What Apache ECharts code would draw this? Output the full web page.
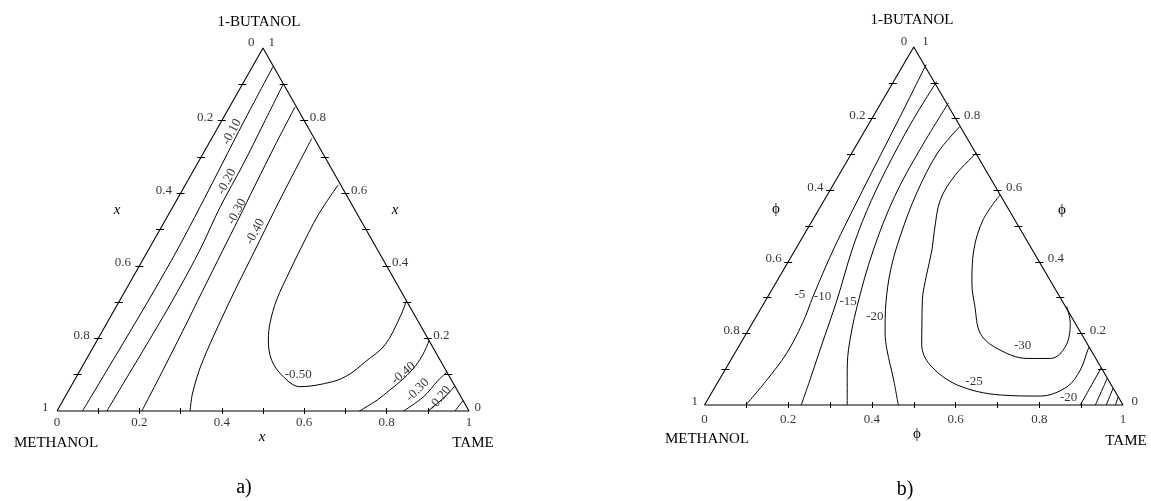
<!DOCTYPE html>
<html>
<head>
<meta charset="utf-8">
<script src="https://cdn.jsdelivr.net/npm/echarts@6/dist/echarts.min.js"></script>
<style>
  html, body { margin: 0; padding: 0; background: #fff; }
  #main { width: 1151px; height: 501px; }
</style>
</head>
<body>
<div id="main"></div>
<script>
// every contour point is [x TAME, x 1-BUTANOL]; methanol is the rest
const edgeValues = [0, 0.2, 0.4, 0.6, 0.8, 1];
const edgeText = ['0', '0.2', '0.4', '0.6', '0.8', '1'];
const minorTicks = [0.1, 0.2, 0.3, 0.4, 0.5, 0.6, 0.7, 0.8, 0.9];

// a) mole fraction contours
const levelsA = ['-0.10', '-0.20', '-0.30', '-0.40', '-0.50', '-0.40', '-0.30', '-0.20'];
const pathA10 = [[0.050, 0.949], [0.053, 0.85], [0.056, 0.77], [0.062, 0.65], [0.066, 0.563], [0.070, 0.4435], [0.070, 0.33], [0.068, 0.22], [0.065, 0.11], [0.062, 0]];
const pathA20 = [[0.099, 0.90], [0.105, 0.80], [0.112, 0.68], [0.115, 0.563], [0.125, 0.4435], [0.128, 0.33], [0.127, 0.22], [0.124, 0.11], [0.121, 0]];
const pathA30 = [[0.159, 0.838], [0.163, 0.74], [0.170, 0.62], [0.176, 0.53], [0.181, 0.4435], [0.188, 0.33], [0.195, 0.22], [0.201, 0.11], [0.206, 0]];
const pathA40 = [[0.243, 0.751], [0.247, 0.65], [0.252, 0.55], [0.259, 0.4435], [0.266, 0.33], [0.277, 0.204], [0.286, 0.13], [0.293, 0.094], [0.306, 0.044], [0.323, 0]];
const pathA50 = [[0.371, 0.623], [0.364, 0.54], [0.368, 0.4435], [0.372, 0.388], [0.38, 0.306], [0.396, 0.242], [0.415, 0.196], [0.451, 0.14], [0.502, 0.0945], [0.556, 0.067], [0.629, 0.081], [0.66, 0.102], [0.68, 0.135], [0.705, 0.182], [0.703, 0.26], [0.696, 0.306]];
const pathA40b = [[0.734, 0], [0.762, 0.03], [0.779, 0.058], [0.797, 0.09], [0.808, 0.125], [0.81, 0.16], [0.806, 0.194]];
const pathA30b = [[0.841, 0], [0.87, 0.039], [0.883, 0.085], [0.893, 0.107]];
const pathA20b = [[0.901, 0], [0.924, 0.044], [0.931, 0.069]];
const pathA10b = [[0.966, 0], [0.971, 0.029]];

// b) volume fraction contours
const levelsB = ['-5', '-10', '-15', '-20', '-25', '-30', '-20'];
const pathB5 = [[0.054, 0.951], [0.065, 0.8], [0.078, 0.6], [0.091, 0.433], [0.108, 0.3025], [0.120, 0.228], [0.124, 0.144], [0.114, 0.07], [0.099, 0]];
const pathB10 = [[0.103, 0.904], [0.100, 0.79], [0.105, 0.66], [0.117, 0.54], [0.136, 0.433], [0.170, 0.293], [0.199, 0.154], [0.217, 0.07], [0.231, 0]];
const pathB15 = [[0.161, 0.844], [0.158, 0.713], [0.163, 0.583], [0.187, 0.433], [0.227, 0.275], [0.267, 0.154], [0.301, 0.08], [0.341, 0]];
const pathB20 = [[0.221, 0.778], [0.205, 0.704], [0.211, 0.592], [0.232, 0.471], [0.256, 0.378], [0.291, 0.285], [0.331, 0.201], [0.359, 0.154], [0.417, 0.07], [0.463, 0]];
const pathB25 = [[0.298, 0.704], [0.278, 0.642], [0.277, 0.573], [0.305, 0.489], [0.327, 0.433], [0.349, 0.363], [0.374, 0.293], [0.408, 0.223], [0.435, 0.168], [0.483, 0.112], [0.576, 0.056], [0.693, 0.028], [0.79, 0.025], [0.841, 0.051], [0.849, 0.098], [0.839, 0.154], [0.838, 0.162]];
const pathB30 = [[0.413, 0.587], [0.407, 0.518], [0.427, 0.433], [0.469, 0.34], [0.508, 0.276], [0.559, 0.2], [0.62, 0.158], [0.706, 0.13], [0.762, 0.13], [0.781, 0.163], [0.76, 0.228], [0.728, 0.275]];
const pathB20b = [[0.898, 0], [0.897, 0.05], [0.896, 0.104]];
const pathB15b = [[0.934, 0], [0.925, 0.075]];
const pathB10b = [[0.960, 0], [0.953, 0.047]];
const pathB5b = [[0.982, 0], [0.977, 0.023]];

const tern = (t, b) => [t + b / 2, b];

const grids = [
  { left: 57, top: 48, width: 412, height: 363 },
  { left: 704.5, top: 47, width: 418.5, height: 358 }
];
const FONT = 'Liberation Serif';

function contour(path, gi) {
  return {
    type: 'line', xAxisIndex: gi, yAxisIndex: gi,
    data: path.map(p => tern(p[0], p[1])),
    smooth: 0.35, symbol: 'none', clip: false, silent: true,
    lineStyle: { color: '#000', width: 1 }
  };
}

function frame(gi) {
  const g = grids[gi];
  const dx = 4 / g.width, dy = 3 / g.height;
  const segs = [];
  minorTicks.forEach(v => {
    let p = tern(0, 1 - v);
    segs.push({ coords: [[p[0] - dx, p[1]], [p[0] + dx, p[1]]] });
    p = tern(1 - v, v);
    segs.push({ coords: [[p[0] - dx, p[1]], [p[0] + dx, p[1]]] });
    p = tern(v, 0);
    segs.push({ coords: [[p[0], p[1] - dy], [p[0], p[1] + dy]] });
  });
  return [
    {
      type: 'line', xAxisIndex: gi, yAxisIndex: gi, symbol: 'none', clip: false, silent: true,
      data: [tern(0, 0), tern(1, 0), tern(0, 1), tern(0, 0)],
      lineStyle: { color: '#000', width: 1.1 }
    },
    {
      type: 'lines', coordinateSystem: 'cartesian2d', xAxisIndex: gi, yAxisIndex: gi,
      clip: false, silent: true, data: segs,
      lineStyle: { color: '#000', width: 1, opacity: 1 }
    }
  ];
}

function edgeLabels(gi, dl, dr, db) {
  const base = {
    type: 'scatter', xAxisIndex: gi, yAxisIndex: gi, symbolSize: 1, clip: false, silent: true,
    itemStyle: { color: 'transparent' }
  };
  const lab = (pos, dist) => ({
    show: true, position: pos, distance: dist, formatter: '{b}',
    fontFamily: FONT, fontSize: 13, color: '#000'
  });
  const left = edgeValues.map((v, i) => ({
    value: tern(0, 1 - v), name: edgeText[i],
    label: { offset: v === 0 ? [0, -5] : [0, -3] }
  }));
  const right = edgeValues.map((v, i) => ({
    value: tern(1 - v, v), name: edgeText[i],
    label: { offset: v === 1 ? [0, -5] : [0, -3] }
  }));
  const bottom = edgeValues.map((v, i) => ({ value: tern(v, 0), name: edgeText[i] }));
  return [
    Object.assign({}, base, { data: left, label: lab('left', dl) }),
    Object.assign({}, base, { data: right, label: lab('right', dr) }),
    Object.assign({}, base, { data: bottom, label: lab('bottom', db) })
  ];
}

function levelLabels(gi, items) {
  return {
    type: 'scatter', xAxisIndex: gi, yAxisIndex: gi, symbolSize: 1, clip: false, silent: true,
    itemStyle: { color: 'transparent' },
    label: { show: true, position: 'inside', formatter: '{b}', fontFamily: FONT, fontSize: 13, color: '#000' },
    data: items.map(it => ({ value: tern(it[1], it[2]), name: it[0], label: { rotate: it[3] } }))
  };
}

// label anchors [text, x TAME, x BUTANOL, rotation]
const anchorsA = [
  [levelsA[0], 0.040, 0.769, 62], [levelsA[1], 0.096, 0.632, 62],
  [levelsA[2], 0.162, 0.549, 62], [levelsA[3], 0.234, 0.494, 62],
  [levelsA[4], 0.536, 0.099, 0], [levelsA[5], 0.789, 0.104, 40],
  [levelsA[6], 0.846, 0.058, 45], [levelsA[7], 0.912, 0.035, 50]
];
const anchorsB = [
  [levelsB[0], 0.074, 0.308, 0], [levelsB[1], 0.131, 0.302, 0],
  [levelsB[2], 0.198, 0.290, 0], [levelsB[3], 0.283, 0.248, 0],
  [levelsB[4], 0.611, 0.066, 0], [levelsB[5], 0.677, 0.166, 0],
  [levelsB[6], 0.860, 0.020, 0]
];

const titles = [
  { text: '1-BUTANOL', x: 259, y: 22, font: '15px ' + FONT },
  { text: 'METHANOL', x: 56, y: 443, font: '15px ' + FONT },
  { text: 'TAME', x: 473, y: 443, font: '15px ' + FONT },
  { text: 'x', x: 117, y: 210, font: 'italic 15px ' + FONT },
  { text: 'x', x: 395, y: 210, font: 'italic 15px ' + FONT },
  { text: 'x', x: 262, y: 437, font: 'italic 15px ' + FONT },
  { text: 'a)', x: 244, y: 488, font: '20px ' + FONT },
  { text: '1-BUTANOL', x: 912, y: 20, font: '15px ' + FONT },
  { text: 'METHANOL', x: 707, y: 439, font: '15px ' + FONT },
  { text: 'TAME', x: 1126, y: 441, font: '15px ' + FONT },
  { text: 'ϕ', x: 776, y: 209, font: '15px ' + FONT },
  { text: 'ϕ', x: 1062, y: 210, font: '15px ' + FONT },
  { text: 'ϕ', x: 917, y: 434, font: '15px ' + FONT },
  { text: 'b)', x: 905, y: 490, font: '20px ' + FONT }
];

const series = [].concat(
  frame(0), frame(1),
  [pathA10, pathA20, pathA30, pathA40, pathA50, pathA40b, pathA30b, pathA20b, pathA10b].map(p => contour(p, 0)),
  [pathB5, pathB10, pathB15, pathB20, pathB25, pathB30, pathB20b, pathB15b, pathB10b, pathB5b].map(p => contour(p, 1)),
  edgeLabels(0, 8, 5, 5), edgeLabels(1, 6, 8, 8),
  [levelLabels(0, anchorsA), levelLabels(1, anchorsB)]
);

const chart = echarts.init(document.getElementById('main'));
chart.setOption({
  animation: false,
  backgroundColor: '#fff',
  grid: grids,
  xAxis: grids.map((g, i) => ({ type: 'value', gridIndex: i, min: 0, max: 1, show: false })),
  yAxis: grids.map((g, i) => ({ type: 'value', gridIndex: i, min: 0, max: 1, show: false })),
  graphic: titles.map(t => ({
    type: 'text', x: t.x, y: t.y, silent: true,
    style: {
      text: t.text, font: t.font, fill: '#000',
      align: 'center', verticalAlign: 'middle',
      textAlign: 'center', textVerticalAlign: 'middle'
    }
  })),
  series: series
});
</script>
</body>
</html>
